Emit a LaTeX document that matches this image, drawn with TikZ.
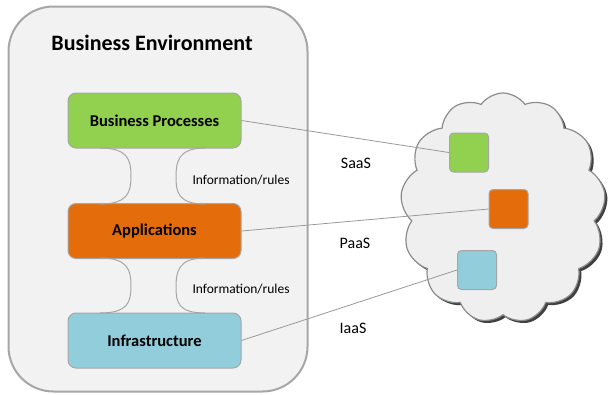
\documentclass[tikz,border=0pt]{standalone}
\usepackage{fontspec}
\setmainfont{Carlito}
\usetikzlibrary{shapes.symbols,shadows}
\definecolor{bgray}{HTML}{F2F2F2}
\definecolor{edgegray}{HTML}{A6A6A6}
\definecolor{bpgreen}{HTML}{92D050}
\definecolor{apporange}{HTML}{E46C0A}
\definecolor{infblue}{HTML}{92CDDC}
\definecolor{cloudfill}{HTML}{EFEFEF}
\tikzset{
  layer/.style={draw=edgegray, line width=1pt, rounded corners=8pt, minimum width=173pt, minimum height=55pt, font=\fontsize{16.5}{19}\selectfont\bfseries, text=black},
  sq/.style={draw=edgegray, line width=1pt, rounded corners=4pt, minimum width=39pt, minimum height=39pt},
  link/.style={draw=gray!80, line width=0.8pt},
  puzzle/.style={draw=edgegray, line width=1pt},
  lbl/.style={font=\fontsize{16}{18}\selectfont, text=black},
  small/.style={font=\fontsize{13.5}{15}\selectfont, text=black}
}
\begin{document}
\begin{tikzpicture}[x=1pt,y=-1pt]
\useasboundingbox (0,0) rectangle (610,394);
\node[draw=edgegray, fill=bgray, line width=2pt, rounded corners=45pt, minimum width=299pt, minimum height=385pt] (env) at (158,199) {};
\node[font=\fontsize{22}{26}\selectfont\bfseries] (title) at (152,43) {Business Environment};
\node[layer, fill=bpgreen] (bp) at (154.5,120.5) {Business Processes};
\node[layer, fill=apporange] (app) at (154.5,231) {Applications};
\node[layer, fill=infblue] (inf) at (154.5,340.5) {Infrastructure};
% puzzle connectors
\draw[puzzle] (100,148) .. controls (128,148) and (131,160) .. (131,176) .. controls (131,192) and (128,204) .. (100,204);
\draw[puzzle] (205,148) .. controls (178,148) and (176,162) .. (176,177) .. controls (176,192) and (178,204) .. (205,204);
\draw[puzzle] (100,258) .. controls (128,258) and (131,270) .. (131,286) .. controls (131,302) and (128,313) .. (100,313);
\draw[puzzle] (205,258) .. controls (178,258) and (176,272) .. (176,287) .. controls (176,302) and (178,313) .. (205,313);
\node[small, anchor=west] (info1) at (189,180) {Information/rules};
\node[small, anchor=west] (info2) at (189,289) {Information/rules};
% cloud
\node[cloud, cloud puffs=13, cloud puff arc=110, aspect=0.9, draw=gray!90, line width=1.2pt, fill=cloudfill, minimum width=205pt, minimum height=230pt, drop shadow={shadow xshift=2.5pt, shadow yshift=-2.5pt, fill=black!75, opacity=1}] (cloud) at (503,208) {};
\node[sq, fill=bpgreen] (s1) at (469,152.5) {};
\node[sq, fill=apporange] (s2) at (508.5,209) {};
\node[sq, fill=infblue] (s3) at (477,270) {};
\draw[link] (bp.east) -- (s1.west);
\draw[link] (app.east) -- (s2.west);
\draw[link] (inf.east) -- (s3.west);
\node[lbl] (saas) at (356,163) {SaaS};
\node[lbl] (paas) at (355,243) {PaaS};
\node[lbl] (iaas) at (353,328) {IaaS};
\end{tikzpicture}
\end{document}
